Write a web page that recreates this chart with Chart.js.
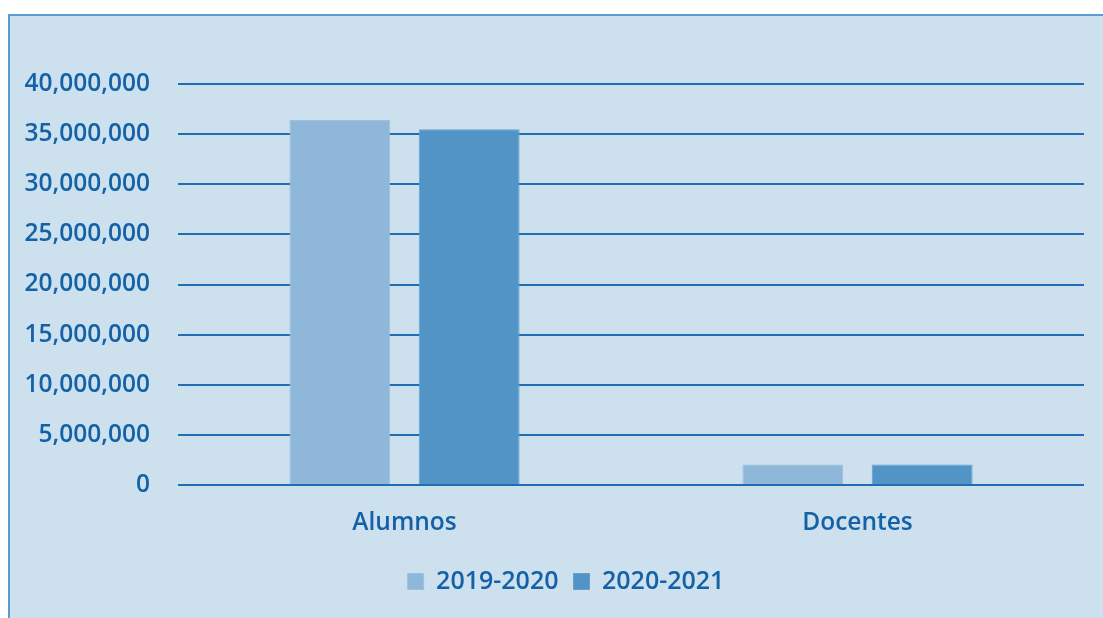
<!DOCTYPE html>
<html>
<head>
<meta charset="utf-8">
<script src="https://cdn.jsdelivr.net/npm/chart.js@4.4.1/dist/chart.umd.min.js"></script>
<style>
  html, body { margin: 0; padding: 0; background: #ffffff; width: 1103px; height: 618px; overflow: hidden; }
  #frame { position: absolute; left: 8px; top: 14px; width: 1093px; height: 602px;
           background: #CDE0EE; border-left: 2px solid #5B9BD5; border-top: 2px solid #5B9BD5; }
  #wrap { position: absolute; left: 0; top: 0; width: 1093px; height: 602px; }
</style>
</head>
<body>
<div id="frame"><div id="wrap"><canvas id="c"></canvas></div></div>
<script>
const categories = ["Alumnos", "Docentes"];
const seriesNames = ["2019-2020", "2020-2021"];
const values2019 = [36420000, 2050000];
const values2020 = [35490000, 2040000];
const yTicksMax = 40000000;
const yTicksStep = 5000000;

const textColor = "#1461A8";
const fontFamily = "'Open Sans', 'Noto Sans', sans-serif";
const fontSpec = { family: fontFamily, size: 24.5, weight: '600' };
const legendFont = { family: fontFamily, size: 25, weight: '600' };

const legendShift = {
  id: 'legendShift',
  afterLayout(chart) {
    if (chart.legend) { chart.legend.left += 38; }
  }
};

new Chart(document.getElementById('c'), {
  type: 'bar',
  data: {
    labels: categories,
    datasets: [
      { label: seriesNames[0], data: values2019, backgroundColor: "#8EB7DA", borderColor: "#9CC1E0", borderWidth: 1,
        categoryPercentage: 0.571, barPercentage: 0.78 },
      { label: seriesNames[1], data: values2020, backgroundColor: "#5294C6", borderColor: "#62A0CE", borderWidth: 1,
        categoryPercentage: 0.571, barPercentage: 0.78 }
    ]
  },
  options: {
    responsive: true,
    maintainAspectRatio: false,
    animation: false,
    devicePixelRatio: 1,
    layout: { padding: { left: 0, right: 19, top: 68, bottom: 14 } },
    plugins: {
      tooltip: { enabled: false },
      legend: {
        position: 'bottom',
        labels: {
          color: textColor,
          font: legendFont,
          boxWidth: 16, boxHeight: 16,
          padding: 15
        }
      }
    },
    scales: {
      x: {
        grid: { display: false, drawTicks: false },
        border: { display: false },
        ticks: { color: textColor, font: fontSpec, padding: 23 },
        afterFit(scale) { scale.height = 69; }
      },
      y: {
        min: 0, max: yTicksMax,
        ticks: {
          stepSize: yTicksStep,
          color: textColor,
          font: fontSpec,
          padding: 28,
          callback: v => v.toLocaleString('en-US')
        },
        grid: { color: "#1F6DB3", lineWidth: 2, drawTicks: false },
        border: { display: false },
        afterFit(scale) { scale.width = 168; }
      }
    }
  },
  plugins: [legendShift]
});
</script>
</body>
</html>
